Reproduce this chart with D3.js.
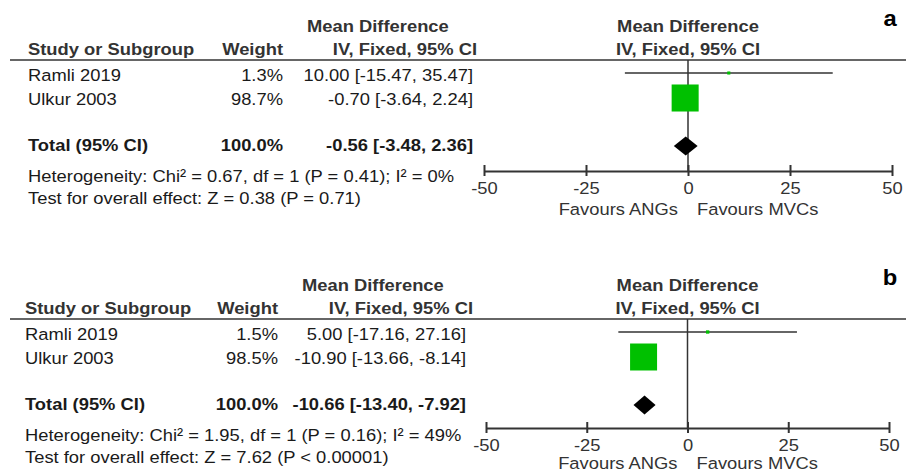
<!DOCTYPE html>
<html>
<head>
<meta charset="utf-8">
<script src="https://cdn.jsdelivr.net/npm/d3@7"></script>
<style>
  html, body { margin: 0; padding: 0; background: #fff; }
  svg { display: block; font-family: "Liberation Sans", Arial, sans-serif; }
</style>
</head>
<body>
<div id="chart"></div>
<script>
// data
var studies = ["Ramli 2019", "Ulkur 2003"];
var ticks = [-50, -25, 0, 25, 50];

var weightA = [1.3, 98.7];
var mdA = [10.00, -0.70];
var lowA = [-15.47, -3.64];
var highA = [35.47, 2.24];
var totalA = [-0.56, -3.48, 2.36];
var hetA = "Heterogeneity: Chi\u00b2 = 0.67, df = 1 (P = 0.41); I\u00b2 = 0%";
var testA = "Test for overall effect: Z = 0.38 (P = 0.71)";

var weightB = [1.5, 98.5];
var mdB = [5.00, -10.90];
var lowB = [-17.16, -13.66];
var highB = [27.16, -8.14];
var totalB = [-10.66, -13.40, -7.92];
var hetB = "Heterogeneity: Chi\u00b2 = 1.95, df = 1 (P = 0.16); I\u00b2 = 49%";
var testB = "Test for overall effect: Z = 7.62 (P < 0.00001)";

var W = 906, H = 476;
var svg = d3.select("#chart").append("svg").attr("width", W).attr("height", H);

function fmt(v){ return v.toFixed(2); }
function ciText(m, l, h){ return fmt(m) + " [" + fmt(l) + ", " + fmt(h) + "]"; }

// text is a bit wider than normal Arial in the picture
function txt(g, x, y, s, o){
	o = o || {};
	return g.append("text")
		.attr("transform", "translate(" + x + "," + y + ") scale(1.08,1)")
		.attr("text-anchor", o.anchor || "start")
		.style("font-weight", o.bold ? "bold" : "normal")
		.style("font-size", (o.size || 17) + "px")
		.attr("fill", o.fill || "#1a1a1a")
		.text(s);
}

function panel(p){
	var g = svg.append("g").attr("transform", "translate(0," + p.dy + ")");

	// table headers
	txt(g, p.mdHeadX, 32, "Mean Difference", {bold: true, fill: "#333"});
	txt(g, p.left, 55, "Study or Subgroup", {bold: true, fill: "#333"});
	txt(g, p.wRight, 55, "Weight", {bold: true, anchor: "end", fill: "#333"});
	txt(g, p.headRight, 55, "IV, Fixed, 95% CI", {bold: true, anchor: "end", fill: "#333"});

	g.append("line")
		.attr("x1", 10).attr("x2", W)
		.attr("y1", 60).attr("y2", 60)
		.attr("stroke", "#333").attr("stroke-width", 1.6);

	var x = d3.scaleLinear().domain([-50, 50]).range(p.xr);
	var yRow = d3.scaleLinear().domain([0, 1]).range([73, 98]);
	var yText = d3.scaleLinear().domain([0, 1]).range([81, 105]);
	var size = d3.scaleSqrt().domain([0, 100]).range([0, 27.2]);
	var axisY = p.axisY, totY = 146;

	// study rows
	studies.forEach(function(s, i){
		txt(g, p.left, yText(i), s);
		txt(g, p.wRight, yText(i), p.w[i].toFixed(1) + "%", {anchor: "end"});
		txt(g, p.ciRight, yText(i), ciText(p.md[i], p.lo[i], p.hi[i]), {anchor: "end"});
	});
	txt(g, p.left, 151, "Total (95% CI)", {bold: true});
	txt(g, p.wRight, 151, "100.0%", {bold: true, anchor: "end"});
	txt(g, p.ciRight, 151, ciText(p.tot[0], p.tot[1], p.tot[2]), {bold: true, anchor: "end"});
	txt(g, p.left, 182, p.het);
	txt(g, p.left, 204, p.test);

	// plot headers
	var x0 = x(0);
	txt(g, x0, 32, "Mean Difference", {bold: true, anchor: "middle", fill: "#333"});
	txt(g, x0, 55, "IV, Fixed, 95% CI", {bold: true, anchor: "middle", fill: "#333"});

	// zero line
	g.append("line")
		.attr("x1", x0).attr("x2", x0)
		.attr("y1", 60).attr("y2", axisY)
		.attr("stroke", "#333").attr("stroke-width", 1.5);

	// CI lines
	g.selectAll(".ci").data(studies).enter().append("line")
		.attr("class", "ci")
		.attr("x1", function(d, i){ return x(p.lo[i]); })
		.attr("x2", function(d, i){ return x(p.hi[i]); })
		.attr("y1", function(d, i){ return yRow(i); })
		.attr("y2", function(d, i){ return yRow(i); })
		.attr("stroke", "#333").attr("stroke-width", 1.5);

	// weight squares
	g.selectAll(".sq").data(studies).enter().append("rect")
		.attr("class", "sq")
		.attr("x", function(d, i){ return x(p.md[i]) - size(p.w[i]) / 2; })
		.attr("y", function(d, i){ return yRow(i) - size(p.w[i]) / 2; })
		.attr("width", function(d, i){ return size(p.w[i]); })
		.attr("height", function(d, i){ return size(p.w[i]); })
		.attr("fill", "#00c000");

	// total diamond
	var dh = 9.5;
	g.append("path")
		.attr("d", "M" + x(p.tot[1]) + "," + totY +
			"L" + x(p.tot[0]) + "," + (totY - dh) +
			"L" + x(p.tot[2]) + "," + totY +
			"L" + x(p.tot[0]) + "," + (totY + dh) + "Z")
		.attr("fill", "#000");

	// axis
	var ax = g.append("g")
		.attr("transform", "translate(0," + axisY + ")")
		.call(d3.axisBottom(x).tickValues(ticks).tickSizeOuter(0).tickFormat(d3.format("d")));
	ax.select(".domain").attr("stroke", "#333").attr("stroke-width", 2);
	ax.selectAll(".tick line").attr("y1", -6).attr("y2", 5).attr("stroke", "#333").attr("stroke-width", 2);
	ax.selectAll(".tick text")
		.attr("y", 0).attr("dy", null)
		.attr("transform", "translate(0,23) scale(1.08,1)")
		.style("font-size", "17px")
		.style("font-family", "'Liberation Sans', Arial, sans-serif")
		.attr("fill", "#333")
		.text(function(d){ return d < 0 ? "-" + Math.abs(d) : d; });

	txt(g, x0 - 10, axisY + p.favY, "Favours ANGs", {anchor: "end", fill: "#333"});
	txt(g, x0 + 9, axisY + p.favY, "Favours MVCs", {fill: "#333"});

	// panel label
	txt(g, 890, 26, p.label, {bold: true, size: 22, anchor: "middle", fill: "#000"});
}

panel({dy: 0, label: "a", left: 28, wRight: 283, ciRight: 473, headRight: 477, mdHeadX: 307,
	axisY: 171, favY: 44,
	xr: [484, 892], w: weightA, md: mdA, lo: lowA, hi: highA, tot: totalA, het: hetA, test: testA});
panel({dy: 259, label: "b", left: 25, wRight: 278, ciRight: 466, headRight: 473, mdHeadX: 302,
	axisY: 169, favY: 41,
	xr: [486, 889], w: weightB, md: mdB, lo: lowB, hi: highB, tot: totalB, het: hetB, test: testB});
</script>
</body>
</html>
